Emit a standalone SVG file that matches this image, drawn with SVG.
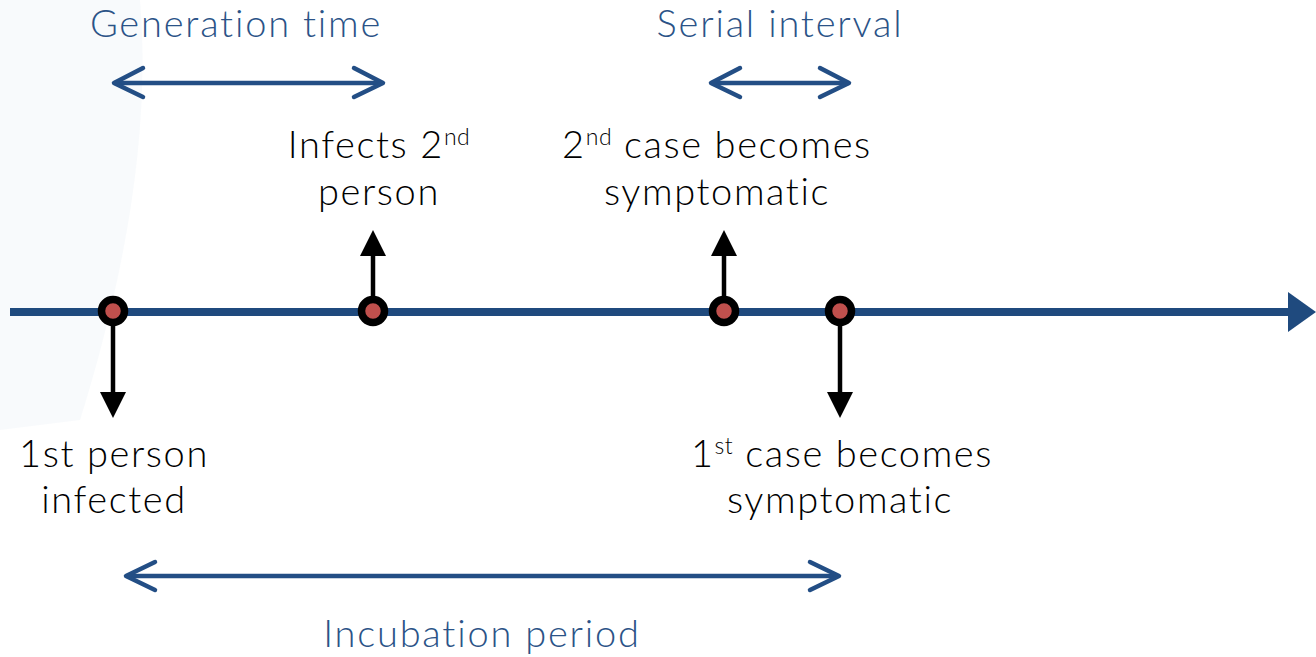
<svg xmlns="http://www.w3.org/2000/svg" width="1316" height="657" viewBox="0 0 1316 657">
<style>
.blue{fill:#2b5387;font-family:Lato,"Open Sans",sans-serif;font-weight:300;font-size:38px;letter-spacing:1.8px}
.blk{fill:#000;font-family:Lato,"Open Sans",sans-serif;font-weight:300;font-size:38px;letter-spacing:1.6px;text-anchor:middle}
.sup{font-size:23px;letter-spacing:0.5px}
.dbl{stroke:#234e85;stroke-width:4.5;fill:none;stroke-linecap:round;stroke-linejoin:round}
.stem{stroke:#000;stroke-width:4.5}
.dot{fill:#c0504d;stroke:#000;stroke-width:7.5}
</style>
<defs>
<marker id="tri" viewBox="0 0 26 26" refX="0" refY="13" markerWidth="26" markerHeight="26" markerUnits="userSpaceOnUse" orient="auto">
<path d="M0,0 L26,13 L0,26 Z" fill="#000"/>
</marker>
</defs>
<rect width="1316" height="657" fill="#fff"/>
<g id="watermark" opacity="0.4">
<path d="M0,0 L140,0 C150,120 130,260 80,420 L0,430 Z" fill="#eef3f8"/>
</g>
<g id="connectors">
<line x1="10" y1="312" x2="1292" y2="312" stroke="#1f4a7e" stroke-width="8"/>
<path d="M1288,292 L1316,312 L1288,332 Z" fill="#1f4a7e"/>
<line class="stem" x1="113" y1="318" x2="113" y2="392" marker-end="url(#tri)"/>
<line class="stem" x1="840" y1="318" x2="840" y2="392" marker-end="url(#tri)"/>
<line class="stem" x1="373" y1="304" x2="373" y2="256" marker-end="url(#tri)"/>
<line class="stem" x1="724" y1="304" x2="724" y2="256" marker-end="url(#tri)"/>
<g id="gen-arrow" class="dbl">
<line x1="115" y1="83" x2="381" y2="83"/>
<path d="M143,68 L114,83 L143,97"/>
<path d="M354,68 L383,83 L354,97"/>
</g>
<g id="serial-arrow" class="dbl">
<line x1="712" y1="83" x2="848" y2="83"/>
<path d="M740,68 L711,83 L740,97"/>
<path d="M820,68 L849,83 L820,97"/>
</g>
<g id="incub-arrow" class="dbl">
<line x1="127" y1="576" x2="837" y2="576"/>
<path d="M155,562 L126,576 L155,590"/>
<path d="M810,562 L839,576 L810,590"/>
</g>
</g>
<g id="dot1"><circle class="dot" cx="113" cy="311" r="11.5"/></g>
<g id="dot2"><circle class="dot" cx="373" cy="311" r="11.5"/></g>
<g id="dot3"><circle class="dot" cx="724" cy="311" r="11.5"/></g>
<g id="dot4"><circle class="dot" cx="840" cy="311" r="11.5"/></g>
<g id="label-generation"><text class="blue" x="236" y="37" text-anchor="middle">Generation time</text></g>
<g id="label-serial"><text class="blue" x="780" y="37" text-anchor="middle">Serial interval</text></g>
<g id="label-incubation"><text class="blue" x="482" y="647" text-anchor="middle">Incubation period</text></g>
<g id="label-infects">
<text class="blk" x="379" y="158">Infects 2<tspan class="sup" dy="-13">nd</tspan></text>
<text class="blk" x="379" y="205">person</text>
</g>
<g id="label-2nd-symp">
<text class="blk" x="717" y="158">2<tspan class="sup" dy="-13">nd</tspan><tspan dy="13"> case becomes</tspan></text>
<text class="blk" x="717" y="205">symptomatic</text>
</g>
<g id="label-1st-infected">
<text class="blk" x="114" y="467">1st person</text>
<text class="blk" x="114" y="513">infected</text>
</g>
<g id="label-1st-symp">
<text class="blk" x="842" y="467">1<tspan class="sup" dy="-13">st</tspan><tspan dy="13"> case becomes</tspan></text>
<text class="blk" x="840" y="513">symptomatic</text>
</g>
</svg>
